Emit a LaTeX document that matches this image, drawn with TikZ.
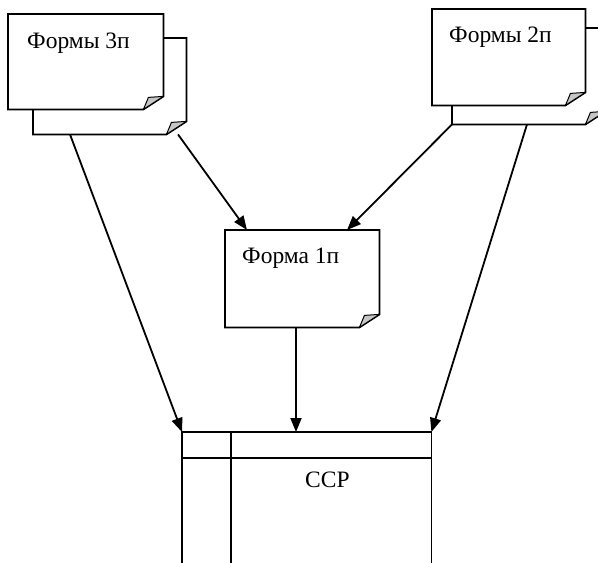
\documentclass[tikz,border=0pt]{standalone}
\usepackage{fontspec}
\setmainfont{Liberation Serif}
\usetikzlibrary{calc,arrows.meta}
\tikzset{
  docbox/.style={rectangle, draw=none, inner sep=0pt, anchor=north west},
  docline/.style={draw=black, fill=white, line width=1.8pt, line join=miter},
  foldst/.style={draw=black, fill=gray!45, line width=1pt, line join=round},
  lbl/.style={inner sep=0pt, anchor=base west, font=\fontsize{23.5}{26}\selectfont},
  arr/.style={line width=1.8pt, -{Triangle[length=14pt,width=11pt]}},
  tabline/.style={line width=1.8pt}
}
\newcommand\docoutline[1]{%
  \filldraw[docline] (#1.north west) -- (#1.north east) -- ($(#1.south east)+(0,-13)$) -- ($(#1.south east)+(-20,0)$) -- (#1.south west) -- cycle;
  \filldraw[foldst] ($(#1.south east)+(-20,0)$) .. controls ($(#1.south east)+(-17,-7)$) .. ($(#1.south east)+(-15,-12)$) .. controls ($(#1.south east)+(-7,-12)$) .. ($(#1.south east)+(0,-13)$) -- cycle;
}
\begin{document}
\begin{tikzpicture}[x=1pt,y=-1pt]
\clip (0,0) rectangle (598,563);
\fill[white] (0,0) rectangle (598,563);
% document nodes
\node[docbox, minimum width=153pt, minimum height=96pt] (f3b) at (33,38) {};
\node[docbox, minimum width=155pt, minimum height=95pt] (f3a) at (8,14) {};
\node[docbox, minimum width=153pt, minimum height=96pt] (f2b) at (452,28) {};
\node[docbox, minimum width=153pt, minimum height=96pt] (f2a) at (432,9) {};
\node[docbox, minimum width=154pt, minimum height=97pt] (f1) at (225,230) {};
\node[docbox, minimum width=249pt, minimum height=140pt] (ccp) at (182,432) {};
\docoutline{f3b}
\docoutline{f3a}
\docoutline{f2b}
\docoutline{f2a}
\docoutline{f1}
% labels
\node[lbl] (t3) at (27,48) {Формы 3п};
\node[lbl] (t2) at (449,42) {Формы 2п};
\node[lbl] (t1) at (242,263) {Форма 1п};
% table
\draw[tabline] (ccp.south west) |- (ccp.north east) -- (ccp.south east);
\draw[tabline] ($(ccp.north west)+(49,0)$) -- ($(ccp.south west)+(49,0)$);
\draw[tabline] ($(ccp.north west)+(0,26)$) -- ($(ccp.north east)+(0,26)$);
\node[lbl] (tc) at (305,487) {ССР};
% connectors
\draw[arr] ($(f3b.south west)+(37,0)$) -- (ccp.north west);
\draw[arr] ($(f3b.south west)+(145,0)$) -- ($(f1.north west)+(22,0)$);
\draw[arr] (f2b.south west) -- ($(f1.north west)+(122,0)$);
\draw[arr] ($(f2b.south west)+(75,0)$) -- (ccp.north east);
\draw[arr] ($(f1.south west)+(71,0)$) -- ($(ccp.north west)+(114,0)$);
\end{tikzpicture}
\end{document}
